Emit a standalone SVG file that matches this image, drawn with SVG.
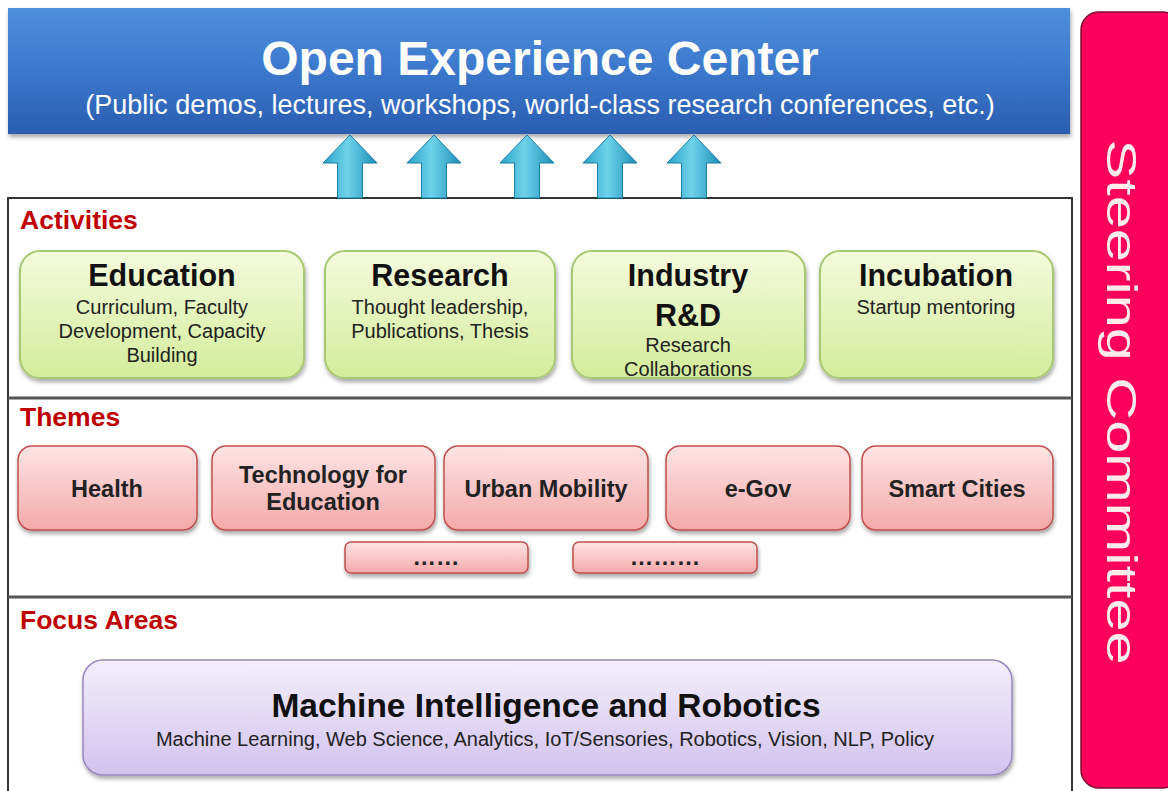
<svg xmlns="http://www.w3.org/2000/svg" width="1168" height="791" viewBox="0 0 1168 791">
<defs>
<linearGradient id="gBlue" x1="0" y1="0" x2="0" y2="1">
<stop offset="0" stop-color="#4f8fdc"/>
<stop offset="0.5" stop-color="#3b78cc"/>
<stop offset="1" stop-color="#2a5db0"/>
</linearGradient>
<linearGradient id="gGreen" x1="0" y1="0" x2="0" y2="1">
<stop offset="0" stop-color="#f4fadc"/>
<stop offset="1" stop-color="#d4ec9c"/>
</linearGradient>
<linearGradient id="gPink" x1="0" y1="0" x2="0" y2="1">
<stop offset="0" stop-color="#fde4e4"/>
<stop offset="1" stop-color="#f5a9a9"/>
</linearGradient>
<linearGradient id="gPurple" x1="0" y1="0" x2="0" y2="1">
<stop offset="0" stop-color="#f3eefb"/>
<stop offset="1" stop-color="#d2c3ee"/>
</linearGradient>
<linearGradient id="gArrow" x1="0" y1="0" x2="1" y2="0">
<stop offset="0" stop-color="#2aa3c8"/>
<stop offset="0.45" stop-color="#6fd2ea"/>
<stop offset="1" stop-color="#1c8fb8"/>
</linearGradient>
<filter id="sh" x="-10%" y="-10%" width="120%" height="130%">
<feDropShadow dx="1" dy="3" stdDeviation="2" flood-color="#000" flood-opacity="0.35"/>
</filter>
<path id="upArrow" d="M0,0 L27,28 L12.5,28 L12.5,63 L-12.5,63 L-12.5,28 L-27,28 Z"/>
</defs>
<style>
text{font-family:"Liberation Sans",Arial,sans-serif}
.sec{fill:#c00000;font-weight:bold;font-size:26.5px}
.act{fill:url(#gGreen);stroke:#a9c873;stroke-width:2}
.theme{fill:url(#gPink);stroke:#c0504d;stroke-width:1.5}
.h1{font-weight:bold;font-size:30.5px;fill:#111;text-anchor:middle}
.sub{font-size:20px;fill:#222;text-anchor:middle}
.th{font-weight:bold;font-size:23.5px;fill:#222;text-anchor:middle}
.arr{fill:url(#gArrow);stroke:#1a7fa6;stroke-width:1}
</style>
<rect x="0" y="0" width="1168" height="791" fill="#ffffff"/>

<g id="open-experience-center">
<rect x="8" y="8" width="1062" height="126" fill="url(#gBlue)" filter="url(#sh)"/>
<text x="540" y="75" text-anchor="middle" fill="#ffffff" font-weight="bold" font-size="48">Open Experience Center</text>
<text x="540" y="114" text-anchor="middle" fill="#ffffff" font-size="27">(Public demos, lectures, workshops, world-class research conferences, etc.)</text>
</g>

<g id="steering-committee">
<rect x="1081" y="12" width="100" height="776" rx="18" fill="#fc005c" stroke="#7a1030" stroke-width="1.5"/>
<text transform="translate(1107,402) rotate(90)" text-anchor="middle" fill="#fdeaea" font-size="42" textLength="525" lengthAdjust="spacingAndGlyphs">Steering Committee</text>
</g>

<g id="frame">
<rect x="8" y="198" width="1064" height="600" fill="none" stroke="#333" stroke-width="2"/>
<line x1="8" y1="398" x2="1072" y2="398" stroke="#555" stroke-width="3"/>
<line x1="8" y1="597" x2="1072" y2="597" stroke="#555" stroke-width="3"/>
</g>

<g id="connectors">
<use href="#upArrow" x="350" y="135" class="arr"/>
<use href="#upArrow" x="434" y="135" class="arr"/>
<use href="#upArrow" x="527" y="135" class="arr"/>
<use href="#upArrow" x="610" y="135" class="arr"/>
<use href="#upArrow" x="694" y="135" class="arr"/>
</g>

<g id="activities-label"><text class="sec" x="20" y="229">Activities</text></g>

<g id="education">
<rect class="act" x="20" y="251" width="284" height="127" rx="20" filter="url(#sh)"/>
<text class="h1" x="162" y="286">Education</text>
<text class="sub" x="162" y="314">Curriculum, Faculty</text>
<text class="sub" x="162" y="338" font-size="19.3">Development, Capacity</text>
<text class="sub" x="162" y="362">Building</text>
</g>
<g id="research">
<rect class="act" x="325" y="251" width="230" height="127" rx="20" filter="url(#sh)"/>
<text class="h1" x="440" y="286">Research</text>
<text class="sub" x="440" y="314">Thought leadership,</text>
<text class="sub" x="440" y="338">Publications, Thesis</text>
</g>
<g id="industry-rd">
<rect class="act" x="572" y="251" width="233" height="127" rx="20" filter="url(#sh)"/>
<text class="h1" x="688" y="286">Industry</text>
<text class="h1" x="688" y="326">R&amp;D</text>
<text class="sub" x="688" y="352">Research</text>
<text class="sub" x="688" y="376">Collaborations</text>
</g>
<g id="incubation">
<rect class="act" x="820" y="251" width="233" height="127" rx="20" filter="url(#sh)"/>
<text class="h1" x="936" y="286">Incubation</text>
<text class="sub" x="936" y="314">Startup mentoring</text>
</g>

<g id="themes-label"><text class="sec" x="20" y="426">Themes</text></g>

<g id="health">
<rect class="theme" x="18" y="446" width="179" height="84" rx="14" filter="url(#sh)"/>
<text class="th" x="107" y="497">Health</text>
</g>
<g id="technology-for-education">
<rect class="theme" x="212" y="446" width="223" height="84" rx="14" filter="url(#sh)"/>
<text class="th" x="323" y="483">Technology for</text>
<text class="th" x="323" y="510">Education</text>
</g>
<g id="urban-mobility">
<rect class="theme" x="444" y="446" width="204" height="84" rx="14" filter="url(#sh)"/>
<text class="th" x="546" y="497">Urban Mobility</text>
</g>
<g id="e-gov">
<rect class="theme" x="666" y="446" width="184" height="84" rx="14" filter="url(#sh)"/>
<text class="th" x="758" y="497">e-Gov</text>
</g>
<g id="smart-cities">
<rect class="theme" x="862" y="446" width="191" height="84" rx="14" filter="url(#sh)"/>
<text class="th" x="957" y="497">Smart Cities</text>
</g>
<g id="more-1">
<rect class="theme" x="345" y="542" width="183" height="31" rx="6" filter="url(#sh)"/>
<text class="th" x="436" y="565" font-size="18">……</text>
</g>
<g id="more-2">
<rect class="theme" x="573" y="542" width="184" height="31" rx="6" filter="url(#sh)"/>
<text class="th" x="665" y="565" font-size="18">………</text>
</g>

<g id="focus-areas-label"><text class="sec" x="20" y="629">Focus Areas</text></g>

<g id="machine-intelligence-and-robotics">
<rect x="83" y="660" width="929" height="115" rx="20" fill="url(#gPurple)" stroke="#9a86c0" stroke-width="1.5" filter="url(#sh)"/>
<text x="546" y="717" text-anchor="middle" font-weight="bold" font-size="33.5" fill="#111">Machine Intelligence and Robotics</text>
<text x="545" y="746" text-anchor="middle" font-size="20" fill="#222">Machine Learning, Web Science, Analytics, IoT/Sensories, Robotics, Vision, NLP, Policy</text>
</g>
</svg>
